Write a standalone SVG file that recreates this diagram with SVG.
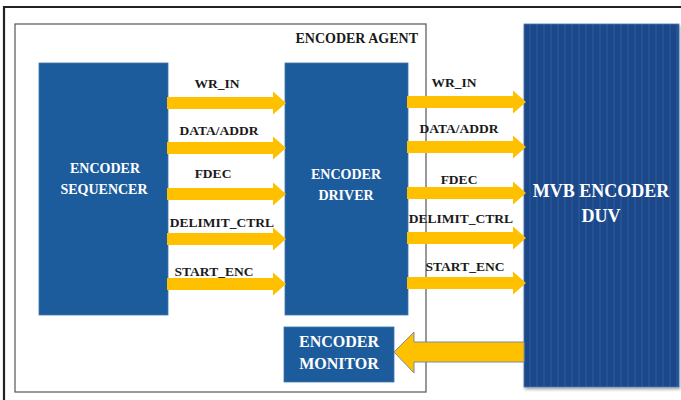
<svg xmlns="http://www.w3.org/2000/svg" width="681" height="400" viewBox="0 0 681 400">
<defs>
<style>
.blk{fill:#1d5c9c;stroke:#3f75ad;stroke-width:0.8}
.bt{font-family:"Liberation Serif","Times New Roman",serif;font-weight:bold;fill:#ffffff;text-anchor:middle}
.lbl{font-family:"Liberation Serif","Times New Roman",serif;font-weight:bold;font-size:13.5px;fill:#1a1a1a;text-anchor:middle}
.arr{fill:#ffc000}
</style>
<pattern id="stripes" patternUnits="userSpaceOnUse" width="7" height="10">
<rect width="7" height="10" fill="#1c4788"/>
<rect x="4" width="2" height="10" fill="#225396"/>
</pattern>
<path id="ra" d="M0,-6 H106 V-11.5 L119,0 L106,11.5 V6 H0 Z"/>
<filter id="sh" x="-5%" y="-5%" width="115%" height="115%">
<feDropShadow dx="1" dy="2" stdDeviation="1.5" flood-color="#000" flood-opacity="0.35"/>
</filter>
</defs>
<rect width="681" height="400" fill="#ffffff"/>
<path d="M4,400 V7 H681" fill="none" stroke="#222" stroke-width="2.2"/>
<g id="agent">
<rect x="15" y="24" width="411" height="368" fill="none" stroke="#555" stroke-width="1.2"/>
<text x="418" y="43" font-family="'Liberation Serif','Times New Roman',serif" font-weight="bold" font-size="14" fill="#1a1a1a" text-anchor="end">ENCODER AGENT</text>
</g>
<g id="duv">
<rect x="524" y="24" width="155" height="363" fill="url(#stripes)" stroke="#4a78b0" stroke-width="0.8" filter="url(#sh)"/>
<text class="bt" x="601" y="197" font-size="18">MVB ENCODER</text>
<text class="bt" x="601" y="222" font-size="18">DUV</text>
</g>
<g id="sequencer">
<rect class="blk" x="39" y="63" width="129" height="252"/>
<text class="bt" x="105" y="173" font-size="14">ENCODER</text>
<text class="bt" x="104" y="194" font-size="14">SEQUENCER</text>
</g>
<g id="driver">
<rect class="blk" x="285" y="63" width="123" height="252"/>
<text class="bt" x="346" y="179" font-size="14">ENCODER</text>
<text class="bt" x="346" y="200" font-size="14">DRIVER</text>
</g>
<g id="monitor">
<rect class="blk" x="284" y="327" width="110" height="55"/>
<text class="bt" x="339" y="347" font-size="16">ENCODER</text>
<text class="bt" x="339" y="369" font-size="16">MONITOR</text>
</g>
<g id="connectors">
<use href="#ra" class="arr" x="167" y="103"/>
<use href="#ra" class="arr" x="167" y="148"/>
<use href="#ra" class="arr" x="167" y="194"/>
<use href="#ra" class="arr" x="167" y="239"/>
<use href="#ra" class="arr" x="167" y="284"/>
<use href="#ra" class="arr" x="407" y="102"/>
<use href="#ra" class="arr" x="407" y="147"/>
<use href="#ra" class="arr" x="407" y="193"/>
<use href="#ra" class="arr" x="407" y="238"/>
<use href="#ra" class="arr" x="407" y="283"/>
<path d="M394,352 L414,332 V342 H524 V362 H414 V373 Z" fill="#ffc000" stroke="#7e8c99" stroke-width="1"/>
<text class="lbl" x="217" y="88">WR_IN</text>
<text class="lbl" x="219" y="135">DATA/ADDR</text>
<text class="lbl" x="213" y="178">FDEC</text>
<text class="lbl" x="222" y="227">DELIMIT_CTRL</text>
<text class="lbl" x="214" y="276">START_ENC</text>
<text class="lbl" x="454" y="87">WR_IN</text>
<text class="lbl" x="459" y="133">DATA/ADDR</text>
<text class="lbl" x="459" y="184">FDEC</text>
<text class="lbl" x="461" y="223">DELIMIT_CTRL</text>
<text class="lbl" x="465" y="271">START_ENC</text>
</g>
</svg>
